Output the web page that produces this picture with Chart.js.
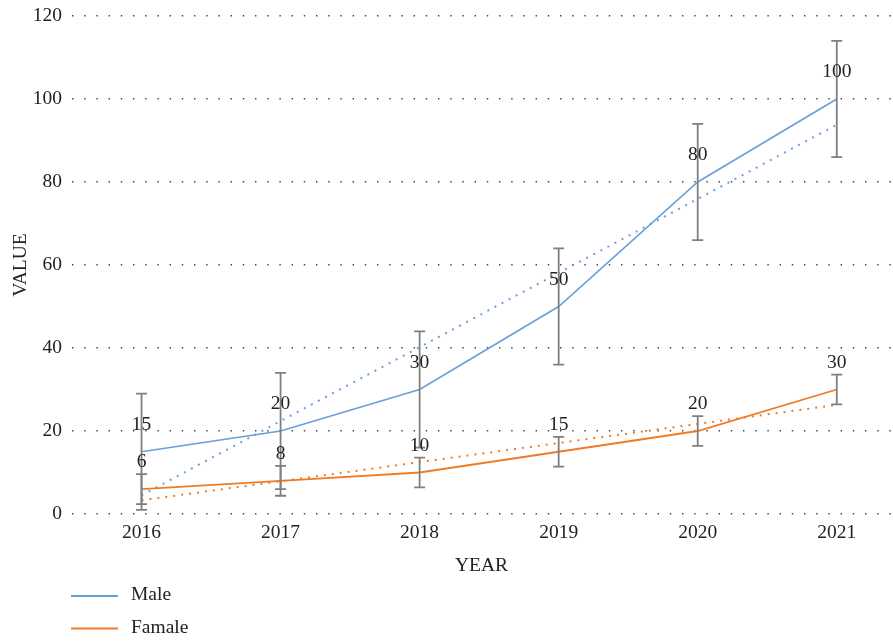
<!DOCTYPE html>
<html>
<head>
<meta charset="utf-8">
<script src="https://cdn.jsdelivr.net/npm/chart.js@4/dist/chart.umd.min.js"></script>
<style>
html,body{margin:0;padding:0;background:#fff;}
#wrap{width:893px;height:642px;position:relative;}
</style>
</head>
<body>
<div id="wrap"><canvas id="c" width="893" height="642"></canvas></div>
<script>
const years = [2016, 2017, 2018, 2019, 2020, 2021];
const maleValues = [15, 20, 30, 50, 80, 100];
const femaleValues = [6, 8, 10, 15, 20, 30];
const maleErr = [14, 14, 14, 14, 14, 14];
const femaleErr = [3.6, 3.6, 3.6, 3.6, 3.6, 3.6];
const maleTrend = [4.5, 22.4, 40.2, 58.1, 75.9, 93.8];
const femaleTrend = [3.3, 7.9, 12.5, 17.1, 21.7, 26.3];
const yTicks = [0, 20, 40, 60, 80, 100, 120];

const BLUE = '#6a9fd8';
const ORANGE = '#f07b24';
const FONT = "'Liberation Serif', 'DejaVu Serif', serif";
const FS = 19.5;

const pts = arr => years.map((yr, i) => ({x: yr, y: arr[i]}));

const errorBars = {
  id: 'errorBars',
  afterDatasetsDraw(chart) {
    const {ctx, scales: {x, y}} = chart;
    ctx.save();
    ctx.strokeStyle = '#7f7f7f';
    ctx.lineWidth = 1.8;
    chart.data.datasets.forEach(ds => {
      if (!ds.err) return;
      ds.data.forEach((p, i) => {
        const px = x.getPixelForValue(p.x);
        const top = y.getPixelForValue(p.y + ds.err[i]);
        const bot = y.getPixelForValue(p.y - ds.err[i]);
        ctx.beginPath();
        ctx.moveTo(px, top); ctx.lineTo(px, bot);
        ctx.moveTo(px - 5.5, top); ctx.lineTo(px + 5.5, top);
        ctx.moveTo(px - 5.5, bot); ctx.lineTo(px + 5.5, bot);
        ctx.stroke();
      });
    });
    ctx.restore();
  }
};

const dataLabels = {
  id: 'dataLabels',
  afterDatasetsDraw(chart) {
    const {ctx, scales: {x, y}} = chart;
    ctx.save();
    ctx.font = FS + 'px ' + FONT;
    ctx.fillStyle = '#222';
    ctx.textAlign = 'center';
    ctx.textBaseline = 'middle';
    chart.data.datasets.forEach(ds => {
      if (!ds.err) return;
      ds.data.forEach(p => {
        ctx.fillText(String(p.y), x.getPixelForValue(p.x), y.getPixelForValue(p.y) - 27);
      });
    });
    ctx.restore();
  }
};

const customLegend = {
  id: 'customLegend',
  afterDraw(chart) {
    const {ctx} = chart;
    const items = chart.data.datasets.filter(d => d.err);
    ctx.save();
    ctx.font = FS + 'px ' + FONT;
    ctx.textAlign = 'left';
    ctx.textBaseline = 'middle';
    items.forEach((ds, i) => {
      const yy = 596 + i * 32.5;
      ctx.strokeStyle = ds.borderColor;
      ctx.lineWidth = 2;
      ctx.beginPath();
      ctx.moveTo(71, yy); ctx.lineTo(118, yy);
      ctx.stroke();
      ctx.fillStyle = '#222';
      ctx.fillText(ds.label, 131, yy - 1);
    });
    ctx.restore();
  }
};

new Chart(document.getElementById('c'), {
  type: 'line',
  data: {
    datasets: [
      {label: 'Male', data: pts(maleValues), err: maleErr, borderColor: BLUE, backgroundColor: BLUE, borderWidth: 1.6, pointRadius: 0, tension: 0},
      {label: 'Famale', data: pts(femaleValues), err: femaleErr, borderColor: ORANGE, backgroundColor: ORANGE, borderWidth: 1.8, pointRadius: 0, tension: 0},
      {label: 'Male trend', data: pts(maleTrend), borderColor: BLUE, borderWidth: 2, borderDash: [2, 6], pointRadius: 0},
      {label: 'Famale trend', data: pts(femaleTrend), borderColor: ORANGE, borderWidth: 2, borderDash: [2, 6], pointRadius: 0}
    ]
  },
  options: {
    responsive: false,
    animation: false,
    layout: {padding: {top: 16, right: 2, left: 0, bottom: 60}},
    plugins: {legend: {display: false}, tooltip: {enabled: false}},
    scales: {
      x: {
        type: 'linear',
        min: 2015.5,
        max: 2021.39,
        afterBuildTicks: s => { s.ticks = years.map(v => ({value: v})); },
        afterFit: s => { s.height = 68; },
        grid: {display: false, drawTicks: false},
        border: {display: false},
        ticks: {padding: 7, color: '#222', font: {family: FONT, size: FS}, callback: v => String(v)},
        title: {display: true, text: 'YEAR', color: '#222', font: {family: FONT, size: FS}, padding: {top: 4, bottom: 4}}
      },
      y: {
        min: 0,
        max: 120,
        afterBuildTicks: s => { s.ticks = yTicks.map(v => ({value: v})); },
        afterFit: s => { s.width = 72; s.paddingTop = 2; s.paddingBottom = 2; },
        grid: {color: '#444', lineWidth: 1.4, drawTicks: false},
        border: {display: false, dash: [1.4, 10.8]},
        ticks: {padding: 10, color: '#222', font: {family: FONT, size: FS}},
        title: {display: true, text: 'VALUE', color: '#222', font: {family: FONT, size: FS}, padding: {top: 9, bottom: 4}}
      }
    }
  },
  plugins: [errorBars, dataLabels, customLegend]
});
</script>
</body>
</html>
